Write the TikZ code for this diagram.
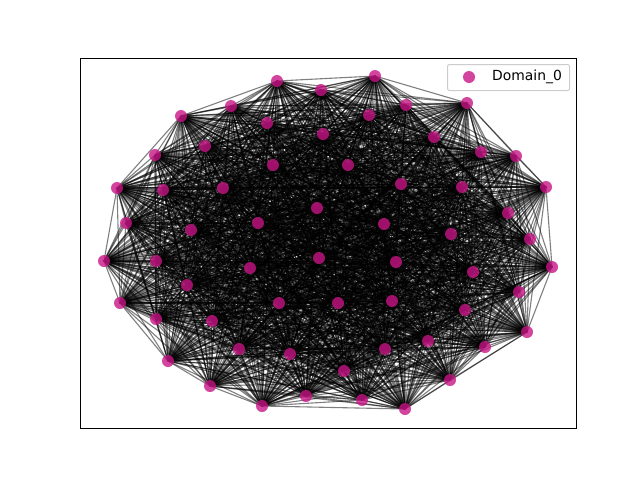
\documentclass[tikz,border=0pt]{standalone}
\usepackage{fontspec}
\setmainfont{DejaVu Sans}
\usetikzlibrary{backgrounds}
\definecolor{nodecol}{RGB}{199,21,133}
\definecolor{legedge}{RGB}{204,204,204}
\tikzset{
  dot/.style={circle,fill=nodecol,fill opacity=0.8,inner sep=0pt,minimum size=12pt,draw=none},
  edge/.style={draw=black,draw opacity=0.5,line width=1.1pt},
  frame/.style={draw=black,line width=1pt},
  legbox/.style={draw=legedge,fill=white,fill opacity=0.8,rounded corners=2pt,line width=1pt},
}
\begin{document}
\begin{tikzpicture}[x=1pt,y=-1pt]
\useasboundingbox (0,0) rectangle (640,480);
\foreach \n/\x/\y in {
1/277/81, 2/321/90, 3/231/106, 4/181/116, 5/267/123, 6/323/134, 7/205/146, 8/155/155,
9/273/165, 10/117/188, 11/163/190, 12/223/188, 13/317/208, 14/126/223, 15/191/230, 16/258/223,
17/375/76, 18/406/105, 19/369/115, 20/467/103, 21/434/137, 22/481/152, 23/516/156, 24/348/165,
25/546/187, 26/401/184, 27/462/187, 28/508/213, 29/384/224, 30/451/234, 31/530/239,
32/104/261, 33/156/261, 34/250/268, 35/319/258, 36/187/285, 37/120/303, 38/279/303, 39/156/319,
40/212/321, 41/239/349, 42/290/354, 43/168/361, 44/210/386, 45/306/396, 46/262/406,
47/396/262, 48/473/272, 49/552/267, 50/338/303, 51/392/301, 52/519/292, 53/465/310, 54/527/332,
55/428/341, 56/485/347, 57/385/349, 58/344/371, 59/450/380, 60/362/400, 61/405/409}
  \node[dot] (n\n) at (\x,\y) {};
\begin{scope}[on background layer]
\draw[frame] (80,58) rectangle (576,428);
\foreach \i in {1,...,60}{
  \pgfmathtruncatemacro\k{\i+1}
  \foreach \j in {\k,...,61}
    \draw[edge] (n\i.center) -- (n\j.center);
}
\end{scope}
\node[legbox,minimum width=122pt,minimum height=26pt,anchor=north west] (leg) at (447,64) {};
\node[dot] (legdot) at (469,77) {};
\node[anchor=west,font=\fontsize{13.9}{16}\selectfont,inner sep=0pt] (legtext) at (492,77) {Domain\_0};
\end{tikzpicture}
\end{document}
